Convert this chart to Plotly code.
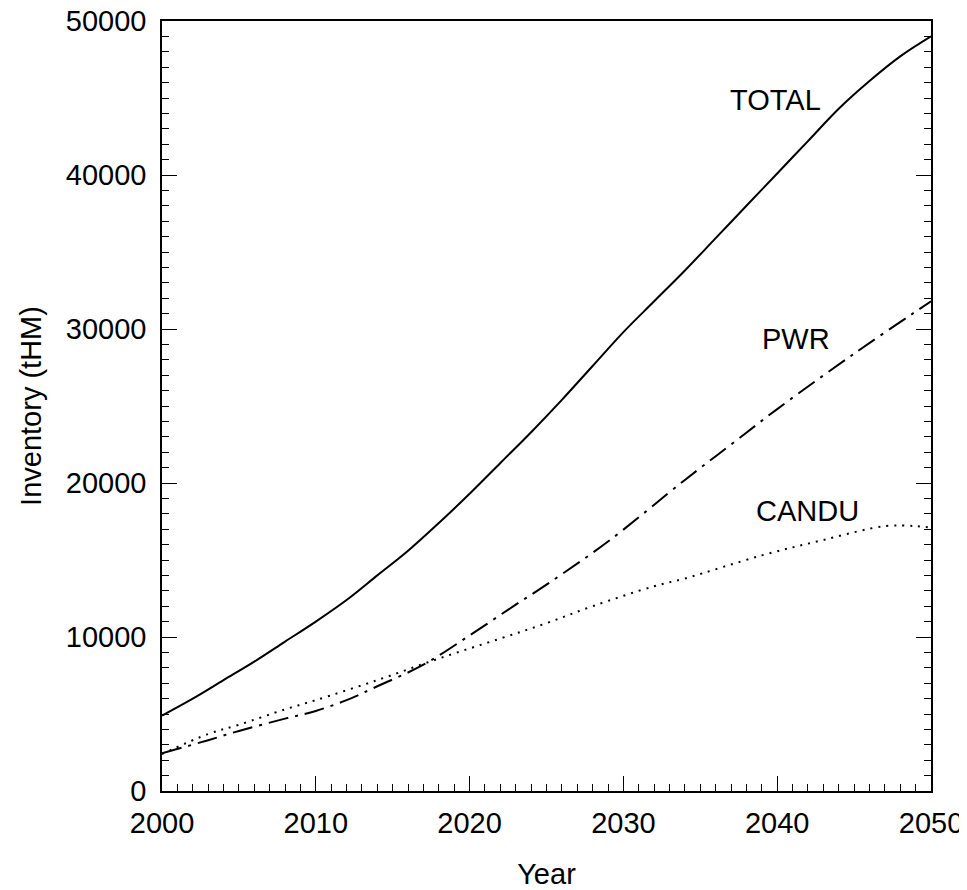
import plotly.graph_objects as go

# Data (tHM)
total_years = [2000, 2002, 2004, 2006, 2008, 2010, 2012, 2014, 2016, 2018, 2020,
               2022, 2024, 2026, 2028, 2030, 2032, 2034, 2036, 2038, 2040,
               2042, 2044, 2046, 2048, 2050]
total_vals = [4900, 6000, 7200, 8400, 9700, 11000, 12400, 14000, 15600, 17400, 19300,
              21300, 23300, 25400, 27600, 29800, 31800, 33800, 35900, 38000, 40100,
              42200, 44300, 46100, 47700, 49000]

pwr_years = [2000, 2003, 2005, 2008, 2010, 2012, 2014, 2017, 2020, 2023, 2025,
             2029, 2034, 2037, 2040, 2045, 2050]
pwr_vals = [2450, 3300, 3900, 4700, 5200, 5900, 6800, 8200, 10100, 12100, 13400,
            16200, 20200, 22500, 24800, 28400, 31800]

candu_years = [2000, 2003, 2005, 2008, 2010, 2014, 2018, 2022, 2025, 2028, 2032,
               2034, 2039, 2043, 2047, 2049, 2050]
candu_vals = [2400, 3700, 4300, 5300, 5900, 7200, 8600, 9900, 10900, 12000, 13300,
              13800, 15300, 16300, 17200, 17200, 17100]

labels = ["TOTAL", "PWR", "CANDU"]
label_x = [2039.9, 2041.2, 2042.0]
label_y = [44900, 29350, 18180]

FONT = "Liberation Sans, Arial, sans-serif"

fig = go.Figure()
fig.add_trace(go.Scatter(x=total_years, y=total_vals, mode="lines",
                         line=dict(color="black", width=2, shape="spline"), name="TOTAL"))
fig.add_trace(go.Scatter(x=pwr_years, y=pwr_vals, mode="lines",
                         line=dict(color="black", width=2, shape="spline",
                                   dash="20px,7px,3px,7px"), name="PWR"))
fig.add_trace(go.Scatter(x=candu_years, y=candu_vals, mode="lines",
                         line=dict(color="black", width=2, shape="spline",
                                   dash="2px,6px"), name="CANDU"))

for t, x, y in zip(labels, label_x, label_y):
    fig.add_annotation(x=x, y=y, text=t, showarrow=False,
                       font=dict(family=FONT, size=29, color="black"))

# page body has an 8px default margin, so the figure is sized to fit the window
fig.update_layout(
    width=959, height=882,
    margin=dict(l=154, r=36, t=13, b=99, autoexpand=False),
    paper_bgcolor="white", plot_bgcolor="white",
    showlegend=False,
    font=dict(family=FONT, size=29, color="black"),
)
fig.update_xaxes(
    range=[2000, 2050], tick0=2000, dtick=10, automargin=False,
    showgrid=False, zeroline=False,
    showline=True, linecolor="black", linewidth=1.5, mirror=True,
    ticks="inside", ticklen=15, tickcolor="black", tickwidth=1,
    minor=dict(ticks="inside", ticklen=7, dtick=1, tickcolor="black", showgrid=False),
    tickfont=dict(size=29), ticklabelstandoff=5, ticklabeloverflow="allow",
    title=dict(text="Year", font=dict(size=29), standoff=34),
)
fig.update_yaxes(
    range=[0, 50000], tick0=0, dtick=10000, tickformat="d", automargin=False,
    showgrid=False, zeroline=False,
    showline=True, linecolor="black", linewidth=1.5, mirror="ticks",
    ticks="inside", ticklen=15, tickcolor="black", tickwidth=1,
    minor=dict(ticks="inside", ticklen=7, dtick=1000, tickcolor="black", showgrid=False),
    tickfont=dict(size=29), ticklabelstandoff=8, ticklabeloverflow="allow",
    title=dict(text="Inventory (tHM)", font=dict(size=29), standoff=16),
)

fig.write_html("out.html")
